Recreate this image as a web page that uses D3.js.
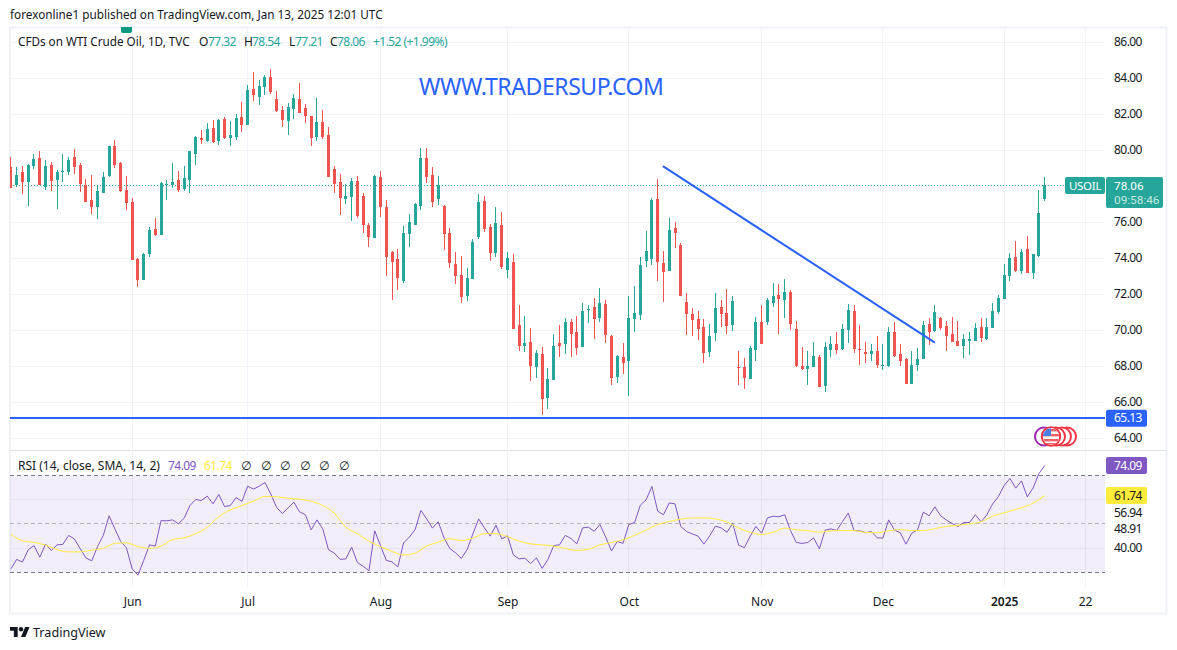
<!DOCTYPE html>
<html>
<head>
<meta charset="utf-8">
<title>USOIL</title>
<script src="https://cdn.jsdelivr.net/npm/d3@7"></script>
<style>
  html, body { margin: 0; padding: 0; background: #fff; }
  svg { display: block; }
  text { font-family: "Noto Sans", "DejaVu Sans", sans-serif; fill: #131722; }
  .axis path, .axis line { display: none; }
  .num { letter-spacing: -0.55px; }
</style>
</head>
<body>
<div id="canvas"></div>
<script>
// daily candles
var opens = [
  79.07, 78.07, 78.79, 78.24, 79.12, 79.57, 77.96, 79.18, 78.35, 78.79,
  78.79, 79.62, 79.18, 78.07, 77.24, 76.85, 77.62, 78.57, 80.24, 79.29,
  77.79, 77.12, 73.96, 72.79, 74.24, 75.62, 75.29, 78.07, 78.07, 78.35,
  77.85, 78.35, 79.79, 80.69, 80.52, 81.24, 80.52, 81.74, 80.69, 80.74,
  81.85, 81.41, 83.41, 82.96, 83.52, 84.08, 82.85, 82.24, 81.63, 82.30,
  82.85, 82.35, 81.91, 80.74, 81.58, 80.85, 78.96, 78.24, 77.30, 77.41,
  78.30, 77.46, 75.85, 75.13, 78.52, 76.85, 74.35, 73.96, 72.74, 75.35,
  75.85, 76.91, 79.57, 78.63, 77.30, 76.91, 75.41, 73.69, 73.07, 71.91,
  72.85, 75.19, 77.19, 75.74, 74.30, 75.85, 73.35, 73.80, 70.30, 69.13,
  69.35, 67.96, 68.69, 66.24, 67.24, 69.30, 69.24, 70.47, 69.91, 69.08,
  71.13, 71.30, 70.69, 71.47, 69.69, 67.41, 68.52, 68.30, 70.63, 70.86,
  73.85, 73.97, 77.30, 73.74, 73.30, 75.69, 74.74, 71.58, 70.91, 70.63,
  70.19, 68.80, 69.85, 71.30, 70.97, 70.30, 67.97, 67.97, 67.30, 68.91,
  70.47, 70.47, 71.52, 71.97, 71.69, 72.13, 70.08, 68.02, 67.86, 67.97,
  68.52, 66.91, 68.91, 69.24, 68.97, 70.02, 71.08, 68.97, 68.80, 68.69,
  68.85, 68.02, 68.02, 69.91, 68.69, 68.41, 67.02, 68.08, 68.41, 70.35,
  69.97, 70.69, 70.24, 69.80, 69.41, 69.13, 69.41, 69.41, 70.19, 69.52,
  70.13, 71.02, 71.74, 73.02, 74.08, 73.30, 74.52, 73.19, 74.13, 77.32
];
var highs = [
  79.64, 79.07, 79.12, 79.24, 79.79, 79.96, 79.46, 79.35, 78.90, 79.79,
  79.62, 80.07, 79.29, 78.40, 78.62, 78.07, 78.79, 80.24, 80.57, 79.35,
  78.57, 77.35, 74.01, 74.29, 75.74, 76.24, 78.24, 78.35, 79.29, 78.85,
  79.12, 80.00, 80.79, 81.13, 81.52, 81.69, 81.74, 81.85, 81.63, 82.02,
  82.69, 83.63, 84.35, 83.91, 84.19, 84.52, 83.30, 82.46, 82.63, 83.13,
  83.74, 82.58, 81.91, 82.91, 82.24, 81.30, 79.13, 78.69, 78.13, 78.46,
  78.57, 77.63, 75.96, 78.63, 78.85, 77.24, 74.41, 74.52, 75.80, 76.46,
  77.07, 80.13, 80.13, 79.07, 78.57, 76.96, 75.69, 74.35, 74.13, 73.46,
  75.07, 77.57, 77.46, 75.91, 76.85, 76.57, 74.35, 74.24, 71.41, 70.80,
  70.13, 68.91, 69.07, 67.91, 69.80, 70.30, 70.69, 70.63, 70.80, 71.52,
  71.41, 71.80, 72.35, 71.69, 69.74, 68.63, 69.30, 71.91, 72.47, 74.08,
  75.52, 77.35, 78.41, 74.41, 76.24, 76.02, 74.85, 72.08, 71.24, 71.08,
  70.63, 70.35, 72.08, 71.69, 72.30, 71.91, 68.85, 68.47, 69.13, 70.74,
  71.41, 71.80, 72.63, 72.58, 72.85, 72.24, 70.52, 69.08, 68.85, 69.35,
  68.63, 69.35, 69.69, 69.91, 70.35, 71.47, 71.41, 70.30, 69.35, 69.24,
  69.69, 69.24, 70.19, 70.47, 69.24, 68.47, 68.85, 69.02, 70.52, 70.69,
  71.41, 70.74, 70.52, 70.74, 70.52, 69.80, 69.91, 70.41, 70.69, 70.69,
  71.52, 71.97, 73.69, 74.30, 74.97, 74.52, 75.24, 74.24, 77.80, 78.54
];
var lows = [
  77.92, 77.96, 77.57, 76.90, 78.96, 78.07, 77.79, 77.74, 76.74, 78.24,
  78.62, 78.68, 77.68, 77.12, 76.46, 76.18, 77.62, 78.51, 79.01, 77.68,
  76.68, 73.90, 72.40, 72.79, 74.07, 75.24, 75.29, 77.24, 77.90, 77.68,
  77.74, 77.62, 79.18, 80.35, 80.46, 80.41, 80.30, 80.63, 80.24, 80.58,
  81.02, 81.41, 82.74, 82.52, 83.08, 83.13, 82.13, 81.30, 80.85, 81.74,
  82.08, 81.52, 80.24, 80.52, 80.63, 78.52, 77.63, 76.41, 77.02, 76.07,
  76.24, 75.41, 74.63, 75.13, 76.30, 73.02, 71.69, 72.24, 72.63, 74.63,
  75.85, 76.69, 78.19, 76.85, 76.96, 74.46, 73.46, 72.57, 71.52, 71.63,
  72.85, 75.07, 75.46, 73.85, 74.07, 73.41, 72.91, 70.07, 68.85, 68.80,
  67.19, 67.35, 65.30, 65.63, 67.24, 68.52, 68.69, 68.52, 68.63, 69.08,
  70.41, 69.52, 70.47, 69.30, 66.97, 67.08, 67.58, 66.35, 69.91, 70.58,
  73.52, 73.63, 72.74, 71.58, 73.30, 74.58, 71.91, 69.74, 69.69, 69.47,
  68.19, 68.52, 69.41, 70.19, 69.80, 69.97, 66.97, 66.74, 67.30, 68.30,
  69.24, 70.30, 71.30, 69.80, 70.69, 70.02, 67.97, 67.80, 66.97, 67.97,
  66.85, 66.58, 68.52, 68.69, 68.91, 69.30, 68.74, 68.08, 68.19, 68.30,
  67.91, 67.80, 67.97, 68.52, 68.02, 67.02, 67.02, 67.74, 68.41, 69.19,
  69.91, 70.02, 68.85, 69.35, 69.13, 68.47, 68.63, 69.41, 69.35, 69.47,
  70.13, 70.91, 71.74, 72.74, 73.24, 73.13, 73.19, 72.85, 74.08, 77.21
];
var closes = [
  77.92, 78.62, 78.24, 79.18, 79.51, 78.07, 79.12, 78.29, 78.79, 78.85,
  79.46, 79.07, 78.12, 77.12, 76.85, 77.74, 78.51, 80.24, 79.18, 77.74,
  77.07, 73.90, 72.79, 74.24, 75.57, 75.29, 78.18, 78.12, 78.24, 77.79,
  78.46, 79.96, 80.74, 80.58, 81.19, 80.46, 81.69, 80.69, 80.85, 81.80,
  81.41, 83.35, 83.08, 83.58, 84.08, 83.24, 82.19, 81.69, 82.41, 82.91,
  82.08, 81.91, 80.69, 81.58, 80.74, 78.52, 78.13, 77.35, 77.46, 78.30,
  76.35, 75.85, 75.19, 78.57, 76.85, 74.07, 73.80, 72.91, 75.41, 76.02,
  77.02, 79.57, 78.52, 77.13, 78.07, 75.35, 73.74, 73.02, 71.85, 72.91,
  74.91, 77.13, 75.63, 74.30, 75.96, 73.52, 74.02, 70.07, 69.13, 69.30,
  68.02, 68.74, 66.19, 67.30, 69.13, 69.13, 70.47, 69.80, 69.02, 71.08,
  71.19, 70.63, 71.52, 69.74, 67.35, 68.58, 68.19, 70.69, 70.97, 73.63,
  74.41, 77.24, 73.80, 73.24, 75.58, 75.41, 71.91, 70.91, 70.58, 70.08,
  68.74, 69.69, 71.24, 70.91, 70.24, 71.63, 67.91, 67.35, 69.02, 70.47,
  69.24, 71.69, 71.91, 71.74, 72.13, 70.35, 68.02, 67.86, 68.02, 68.58,
  66.85, 69.08, 69.24, 68.91, 70.08, 71.13, 68.97, 68.91, 68.69, 68.85,
  68.08, 68.08, 69.91, 68.58, 68.30, 67.02, 68.08, 68.41, 70.30, 69.91,
  71.02, 70.13, 69.69, 69.35, 69.13, 69.52, 69.52, 70.13, 69.58, 70.19,
  71.08, 71.80, 73.08, 74.02, 73.30, 74.35, 73.19, 74.24, 76.52, 78.06
];

var rsi = [
  31.5, 35.4, 34.3, 39.4, 41.1, 36.3, 41.7, 39.1, 41.4, 41.6,
  45.3, 43.8, 39.8, 36.0, 34.8, 40.7, 45.3, 53.4, 48.0, 42.8,
  40.2, 31.5, 28.9, 35.0, 41.4, 40.9, 51.4, 51.3, 51.7, 50.1,
  52.4, 57.6, 60.1, 59.7, 61.5, 58.3, 62.2, 57.2, 57.6, 60.9,
  59.3, 65.6, 64.4, 65.6, 67.1, 62.4, 56.9, 54.3, 56.7, 59.0,
  55.0, 53.8, 47.6, 51.7, 48.0, 39.4, 38.0, 35.4, 35.6, 40.5,
  34.1, 32.6, 30.7, 47.2, 41.1, 35.0, 34.4, 32.3, 42.2, 44.6,
  47.7, 55.6, 52.1, 48.3, 50.9, 44.3, 39.9, 38.1, 35.8, 39.5,
  45.9, 52.1, 48.4, 45.0, 49.5, 43.9, 45.1, 37.3, 35.6, 35.9,
  33.7, 36.0, 31.7, 35.4, 41.1, 41.4, 45.3, 44.0, 41.8, 48.4,
  48.7, 47.0, 49.8, 44.6, 38.9, 42.8, 42.0, 49.8, 50.6, 57.8,
  60.0, 65.5, 55.3, 53.8, 58.7, 58.3, 49.0, 46.9, 45.9, 45.0,
  41.7, 45.1, 49.1, 48.4, 46.6, 50.3, 41.3, 40.2, 44.8, 49.0,
  46.2, 52.5, 53.2, 53.0, 53.8, 47.3, 42.4, 42.0, 42.4, 44.3,
  39.8, 47.5, 48.0, 47.3, 51.0, 54.5, 47.3, 47.2, 46.4, 46.9,
  44.3, 44.2, 51.7, 47.5, 46.4, 41.7, 46.2, 47.6, 54.9, 53.4,
  57.1, 53.4, 51.6, 50.2, 49.0, 50.6, 50.6, 53.8, 50.9, 53.8,
  58.3, 61.3, 65.9, 68.8, 64.8, 67.8, 61.2, 64.8, 70.7, 74.09
];

// smoothing line read every second bar, plus the last bar
var smaBars = d3.range(0, 180, 2).concat([179]);
var smaValues = [
  45.7, 43.1, 42.4, 41.3, 39.4, 38.5, 38.5, 39.2, 40.0, 42.0,
  42.2, 40.7, 40.0, 40.9, 43.6, 44.3, 46.0, 48.7, 53.0, 55.8,
  57.6, 59.4, 61.3, 61.2, 60.6, 60.2, 59.4, 57.6, 54.5, 48.7,
  46.0, 42.9, 40.7, 38.7, 37.2, 38.0, 40.9, 42.5, 43.9, 43.1,
  44.2, 46.0, 46.0, 44.8, 42.9, 41.8, 41.4, 40.9, 39.9, 39.1,
  39.6, 41.4, 42.4, 43.5, 45.3, 47.6, 49.8, 51.0, 52.0, 52.5,
  52.5, 52.1, 50.8, 48.4, 46.6, 45.7, 46.6, 48.3, 47.6, 47.3,
  46.6, 47.2, 47.3, 47.3, 46.5, 46.4, 47.2, 47.7, 47.3, 47.3,
  48.1, 49.0, 49.4, 50.1, 50.9, 53.2, 54.6, 56.0, 57.5, 60.0,
  61.74
];

var priceTicks = d3.range(64, 88, 2);
var rsiGrid = [40, 60];
var rsiLevels = [70, 50, 30];
var rsiTickLabels = ['56.94', '48.91', '40.00'];
var rsiTickValues = [54.5, 47.8, 40];
var monthBars = [21, 41, 64, 86, 107, 130, 151, 172, 186];
var monthLabels = ['Jun', 'Jul', 'Aug', 'Sep', 'Oct', 'Nov', 'Dec', '2025', '22'];
var trendBars = [112.9, 160];
var trendPrices = [79.13, 69.33];
var supportPrice = 65.13;
var lastPrice = 78.06;
var lastRsi = 74.09;
var lastSma = 61.74;

var UP = '#26a69a', DOWN = '#ef5350', BLUE = '#2962ff', PURPLE = '#7e57c2', YELLOW = '#ffeb3b';
var GRID = '#f0f3fa', FRAME = '#eff1f7';
var LEFT = 10, RIGHT = 1105;

var x = d3.scaleLinear().domain([0, 179]).range([10.9, 1044.6]);
var y = d3.scaleLinear().domain([64, 86]).range([438.5, 42.5]);
var yRsi = d3.scaleLinear().domain([30, 70]).range([572.5, 475.5]);

var svg = d3.select('#canvas').append('svg')
  .attr('width', 1177)
  .attr('height', 650);

svg.append('defs').append('clipPath').attr('id', 'plot')
  .append('rect').attr('x', 10).attr('y', 28).attr('width', RIGHT - 10).attr('height', 559);
svg.select('defs').append('clipPath').attr('id', 'flag')
  .append('circle').attr('cx', 1051).attr('cy', 436.5).attr('r', 8.2);

// header above the frame
svg.append('text').attr('x', 10).attr('y', 19).style('font-size', '11.75px')
  .text('forexonline1 published on TradingView.com, Jan 13, 2025 12:01 UTC');

// frame and pane divider
svg.append('rect').attr('x', 10).attr('y', 27.5).attr('width', 1156.5).attr('height', 586)
  .attr('fill', 'none').attr('stroke', FRAME).attr('stroke-width', 2);
svg.append('line').attr('x1', 10).attr('x2', 1167).attr('y1', 450.5).attr('y2', 450.5)
  .attr('stroke', '#e0e3eb');
svg.append('path').attr('d', 'M121 27h11v4a2 2 0 0 1-2 2h-7a2 2 0 0 1-2-2z').attr('fill', '#089981');

var plot = svg.append('g').attr('clip-path', 'url(#plot)');

// rsi band under the grid
plot.append('rect')
  .attr('x', LEFT).attr('width', RIGHT - LEFT)
  .attr('y', yRsi(70)).attr('height', yRsi(30) - yRsi(70))
  .attr('fill', PURPLE).attr('fill-opacity', 0.1);

// grid
plot.selectAll('.hgrid').data(priceTicks).enter().append('line')
  .attr('class', 'hgrid')
  .attr('x1', LEFT).attr('x2', RIGHT)
  .attr('y1', function(d) { return y(d); }).attr('y2', function(d) { return y(d); })
  .attr('stroke', GRID).attr('stroke-width', 1);
plot.selectAll('.rgrid').data(rsiGrid).enter().append('line')
  .attr('class', 'rgrid')
  .attr('x1', LEFT).attr('x2', RIGHT)
  .attr('y1', function(d) { return Math.floor(yRsi(d)) + 0.5; })
  .attr('y2', function(d) { return Math.floor(yRsi(d)) + 0.5; })
  .attr('stroke', '#e6e3ee');
plot.selectAll('.vgrid').data(monthBars).enter().append('line')
  .attr('class', 'vgrid')
  .attr('x1', function(d) { return Math.floor(x(d)) + 0.5; })
  .attr('x2', function(d) { return Math.floor(x(d)) + 0.5; })
  .attr('y1', 28).attr('y2', 587)
  .attr('stroke', GRID);
plot.selectAll('.vgrid2').data(monthBars).enter().append('line')
  .attr('class', 'vgrid2')
  .attr('x1', function(d) { return Math.floor(x(d)) + 0.5; })
  .attr('x2', function(d) { return Math.floor(x(d)) + 0.5; })
  .attr('y1', yRsi(70)).attr('y2', yRsi(30))
  .attr('stroke', '#e6e3ee');

// rsi level lines
plot.selectAll('.level').data(rsiLevels).enter().append('line')
  .attr('class', 'level')
  .attr('x1', LEFT).attr('x2', RIGHT)
  .attr('y1', function(d) { return Math.round(yRsi(d)) - 0.5; })
  .attr('y2', function(d) { return Math.round(yRsi(d)) - 0.5; })
  .attr('stroke', '#787b86')
  .attr('stroke-opacity', function(d) { return d === 50 ? 0.5 : 1; })
  .attr('stroke-dasharray', '4 3');

// last price dotted line
plot.append('line')
  .attr('x1', LEFT).attr('x2', RIGHT)
  .attr('y1', Math.floor(y(lastPrice)) + 0.5).attr('y2', Math.floor(y(lastPrice)) + 0.5)
  .attr('stroke', UP).attr('stroke-dasharray', '1 2');

// candles
var bars = d3.range(closes.length).map(function(i) {
  return { i: i, open: opens[i], high: highs[i], low: lows[i], close: closes[i] };
});
var candles = plot.append('g').attr('shape-rendering', 'crispEdges')
  .selectAll('.candle').data(bars).enter().append('g').attr('class', 'candle')
  .attr('fill', function(d) { return d.close >= d.open ? UP : DOWN; });
candles.append('rect')
  .attr('x', function(d) { return Math.floor(x(d.i)); })
  .attr('width', 1)
  .attr('y', function(d) { return y(d.high); })
  .attr('height', function(d) { return y(d.low) - y(d.high); });
candles.append('rect')
  .attr('x', function(d) { return Math.floor(x(d.i)) - 1; })
  .attr('width', 3)
  .attr('y', function(d) { return y(Math.max(d.open, d.close)); })
  .attr('height', function(d) { return Math.max(1, Math.abs(y(d.open) - y(d.close))); });

// drawn lines
plot.append('line')
  .attr('x1', LEFT).attr('x2', RIGHT)
  .attr('y1', Math.round(y(supportPrice))).attr('y2', Math.round(y(supportPrice)))
  .attr('stroke', BLUE).attr('stroke-width', 2);
plot.append('line')
  .attr('x1', x(trendBars[0])).attr('y1', y(trendPrices[0]))
  .attr('x2', x(trendBars[1])).attr('y2', y(trendPrices[1]))
  .attr('stroke', BLUE).attr('stroke-width', 2);

// rsi and its average
var rsiLine = d3.line()
  .x(function(d, i) { return x(i); })
  .y(function(d) { return yRsi(d); });
plot.append('path').datum(rsi)
  .attr('d', rsiLine)
  .attr('fill', 'none').attr('stroke', PURPLE).attr('stroke-width', 1);
var smaLine = d3.line()
  .x(function(d, i) { return x(smaBars[i]); })
  .y(function(d) { return yRsi(d); })
  .curve(d3.curveMonotoneX);
plot.append('path').datum(smaValues)
  .attr('d', smaLine)
  .attr('fill', 'none').attr('stroke', YELLOW).attr('stroke-width', 1);

// watermark
svg.append('text').attr('x', 419).attr('y', 95)
  .style('font-size', '23px').style('letter-spacing', '-0.41px').style('fill', BLUE)
  .text('WWW.TRADERSUP.COM');

// legend row
function legend(x0, y0, str, color, cls) {
  svg.append('text').attr('x', x0).attr('y', y0).attr('class', cls || null)
    .style('font-size', '12px')
    .style('fill', color || '#131722').text(str);
}
svg.append('text').attr('x', 18).attr('y', 46).style('font-size', '11.7px')
  .text('CFDs on WTI Crude Oil, 1D, TVC');
legend(199, 46, 'O');
legend(208, 46, '77.32', UP, 'num');
legend(244, 46, 'H');
legend(252, 46, '78.54', UP, 'num');
legend(289, 46, 'L');
legend(295, 46, '77.21', UP, 'num');
legend(330, 46, 'C');
legend(337, 46, '78.06', UP, 'num');
legend(373, 46, '+1.52 (+1.99%)', UP, 'num');
legend(18, 470, 'RSI (14, close, SMA, 14, 2)');
legend(168, 470, '74.09', PURPLE, 'num');
legend(204, 470, '61.74', YELLOW, 'num');
[245, 265, 284, 304, 323, 343].forEach(function(px) {
  legend(px - 4, 470, '\u2205');
});

// axes
var priceAxis = d3.axisRight(y).tickValues(priceTicks).tickSize(0).tickPadding(0)
  .tickFormat(d3.format('.2f'));
svg.append('g').attr('class', 'axis').attr('transform', 'translate(1114,-0.5)').call(priceAxis)
  .selectAll('text').attr('class', 'num').style('font-size', '12px');

var rsiAxis = d3.axisRight(yRsi).tickValues(rsiTickValues).tickSize(0).tickPadding(0)
  .tickFormat(function(d, i) { return rsiTickLabels[i]; });
svg.append('g').attr('class', 'axis').attr('transform', 'translate(1114,-0.5)').call(rsiAxis)
  .selectAll('text').attr('class', 'num').style('font-size', '12px');

var timeAxis = d3.axisBottom(x).tickValues(monthBars).tickSize(0).tickPadding(0)
  .tickFormat(function(d, i) { return monthLabels[i]; });
svg.append('g').attr('class', 'axis').attr('transform', 'translate(0,597)').call(timeAxis)
  .selectAll('text').style('font-size', '12px')
  .style('font-weight', function(d) { return d === 172 ? 600 : 400; });

// price tags
function tag(x0, y0, w, h, color, str, textColor) {
  svg.append('rect').attr('x', x0).attr('y', y0).attr('width', w).attr('height', h)
    .attr('rx', 2).attr('fill', color);
  svg.append('text').attr('x', x0 + 8).attr('y', y0 + 12.5).attr('class', 'num')
    .style('font-size', '12px').style('fill', textColor || '#fff').text(str);
}
svg.append('rect').attr('x', 1065).attr('y', 177).attr('width', 40).attr('height', 17)
  .attr('rx', 2).attr('fill', UP);
svg.append('text').attr('x', 1069).attr('y', 190).style('font-size', '11.5px').style('letter-spacing', '-0.3px')
  .style('fill', '#fff').text('USOIL');
// last price box, two tight lines
svg.append('rect').attr('x', 1106).attr('y', 177).attr('width', 57).attr('height', 31)
  .attr('rx', 2).attr('fill', UP);
svg.append('text').attr('x', 1114).attr('y', 189.5).style('font-family', 'Roboto').style('font-size', '11.8px')
  .style('fill', '#fff').text(lastPrice.toFixed(2));
svg.append('text').attr('x', 1114).attr('y', 203.7).style('font-family', 'Roboto').style('font-size', '11.8px')
  .style('fill', '#c4e8e4').text('09:58:46');
tag(1106, y(supportPrice) - 8.5, 41, 17, BLUE, supportPrice.toFixed(2));
tag(1106, 457, 41, 17, PURPLE, lastRsi.toFixed(2));
tag(1106, 487, 41, 17, YELLOW, lastSma.toFixed(2), '#131722');

// flag badges
[1067, 1062, 1056].forEach(function(cx) {
  svg.append('circle').attr('cx', cx).attr('cy', 436.5).attr('r', 9)
    .attr('fill', '#fff').attr('stroke', '#f23645').attr('stroke-width', 2);
});
svg.append('circle').attr('cx', 1044).attr('cy', 436.5).attr('r', 9)
  .attr('fill', '#fff').attr('stroke', '#9c27b0').attr('stroke-width', 2);
svg.append('circle').attr('cx', 1051).attr('cy', 436.5).attr('r', 9.2)
  .attr('fill', '#fff').attr('stroke', '#f23645').attr('stroke-width', 2);
var flag = svg.append('g').attr('clip-path', 'url(#flag)');
flag.append('rect').attr('x', 1043).attr('y', 428).attr('width', 16).attr('height', 17).attr('fill', '#fff');
[429, 434, 439, 443].forEach(function(sy) {
  flag.append('rect').attr('x', 1043).attr('y', sy).attr('width', 16).attr('height', 2.4).attr('fill', '#f0606a');
});
flag.append('rect').attr('x', 1043).attr('y', 428).attr('width', 8).attr('height', 8).attr('fill', '#4a80e8');

// logo
var logo = svg.append('g').attr('transform', 'translate(10,624.8) scale(0.55)').attr('fill', '#131722');
logo.append('path').attr('d', 'M14 22H7V11H0V4h14v18zM28 22h-8l7.5-18h8L28 22z');
logo.append('circle').attr('cx', 20).attr('cy', 8).attr('r', 4);
svg.append('text').attr('x', 33).attr('y', 637).style('font-size', '12.6px').text('TradingView');
</script>
</body>
</html>
